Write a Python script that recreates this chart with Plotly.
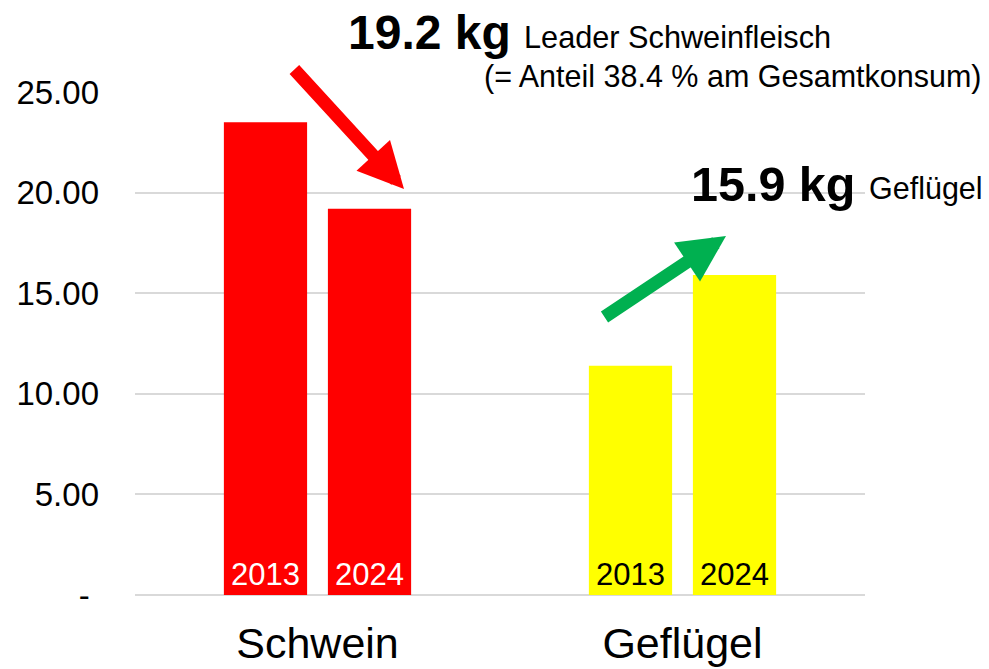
import plotly.graph_objects as go

categories = ["Schwein", "Geflügel"]
years = ["2013", "2024"]
values_2013 = [23.5, 11.4]
values_2024 = [19.2, 15.9]
bar_colors = ["#FF0000", "#FFFF00"]
label_colors = ["white", "black"]
tick_vals = [0, 5, 10, 15, 20, 25]
tick_text = ["-\u00a0", "5.00", "10.00", "15.00", "20.00", "25.00"]

FONT = "Liberation Sans, Arial, sans-serif"

fig = go.Figure()
for yr, vals in zip(years, [values_2013, values_2024]):
    fig.add_trace(go.Bar(
        x=categories, y=vals, name=yr,
        marker=dict(color=bar_colors, line=dict(width=0)),
        text=[yr] * len(categories),
        textposition="inside", insidetextanchor="start",
        textangle=0,
        textfont=dict(family=FONT, size=31, color=label_colors),
        cliponaxis=False,
    ))

# body margin is removed in the page, so figure px == page px
W, H = 989, 669
L, R, T, B = 135, 124, 92, 74
pw, ph = W - L - R, H - T - B
OFF = 0

def px(x):
    return (x - OFF - L) / pw

def py(y):
    return (H - B - (y - OFF)) / ph

annos = []
# arrows (page coordinates of tip, pixel offsets of tail)
annos.append(dict(x=px(404), y=py(189), xref="paper", yref="paper",
                  ax=-111, ay=-121, showarrow=True, arrowhead=2,
                  arrowsize=0.7, arrowwidth=13, arrowcolor="#FF0000", text=""))
annos.append(dict(x=px(726), y=py(236), xref="paper", yref="paper",
                  ax=-123, ay=82, showarrow=True, arrowhead=2,
                  arrowsize=0.72, arrowwidth=13, arrowcolor="#00B050", text=""))
# texts (page coordinates: left edge, cap-centre)
annos.append(dict(x=px(346), y=py(32), xref="paper", yref="paper", xanchor="left", yanchor="middle",
                  text="<b>19.2 kg</b>", showarrow=False, font=dict(family=FONT, size=48, color="black")))
annos.append(dict(x=px(522), y=py(37), xref="paper", yref="paper", xanchor="left", yanchor="middle",
                  text="Leader Schweinfleisch", showarrow=False, font=dict(family=FONT, size=30.7, color="black")))
annos.append(dict(x=px(984), y=py(76), xref="paper", yref="paper", xanchor="right", yanchor="middle",
                  text="(= Anteil 38.4 % am Gesamtkonsum)", showarrow=False, font=dict(family=FONT, size=30.5, color="black")))
annos.append(dict(x=px(689), y=py(184), xref="paper", yref="paper", xanchor="left", yanchor="middle",
                  text="<b>15.9 kg</b>", showarrow=False, font=dict(family=FONT, size=48.5, color="black")))
annos.append(dict(x=px(867), y=py(188), xref="paper", yref="paper", xanchor="left", yanchor="middle",
                  text="Geflügel", showarrow=False, font=dict(family=FONT, size=30.5, color="black")))

fig.update_layout(
    width=W, height=H,
    margin=dict(l=L, r=R, t=T, b=B, pad=0, autoexpand=False),
    paper_bgcolor="white", plot_bgcolor="white",
    barmode="group", bargap=0.43, bargroupgap=0.2,
    showlegend=False,
    font=dict(family=FONT, color="black"),
    annotations=annos,
    xaxis=dict(
        tickfont=dict(family=FONT, size=43, color="black"),
        showgrid=False, showline=False, ticks="",
        ticklabelstandoff=19, automargin=False,
    ),
    yaxis=dict(
        range=[0, 25], tickvals=tick_vals, ticktext=tick_text,
        tickfont=dict(family=FONT, size=33, color="black"),
        showgrid=True, gridcolor="#D9D9D9", gridwidth=2,
        zeroline=True, zerolinecolor="#D9D9D9", zerolinewidth=2,
        showline=False, ticks="", ticklabelstandoff=35, automargin=False,
    ),
)

fig.write_html("out.html",
               config={"displayModeBar": False},
               post_script="document.body.style.margin='0px';document.body.style.overflow='hidden';")
